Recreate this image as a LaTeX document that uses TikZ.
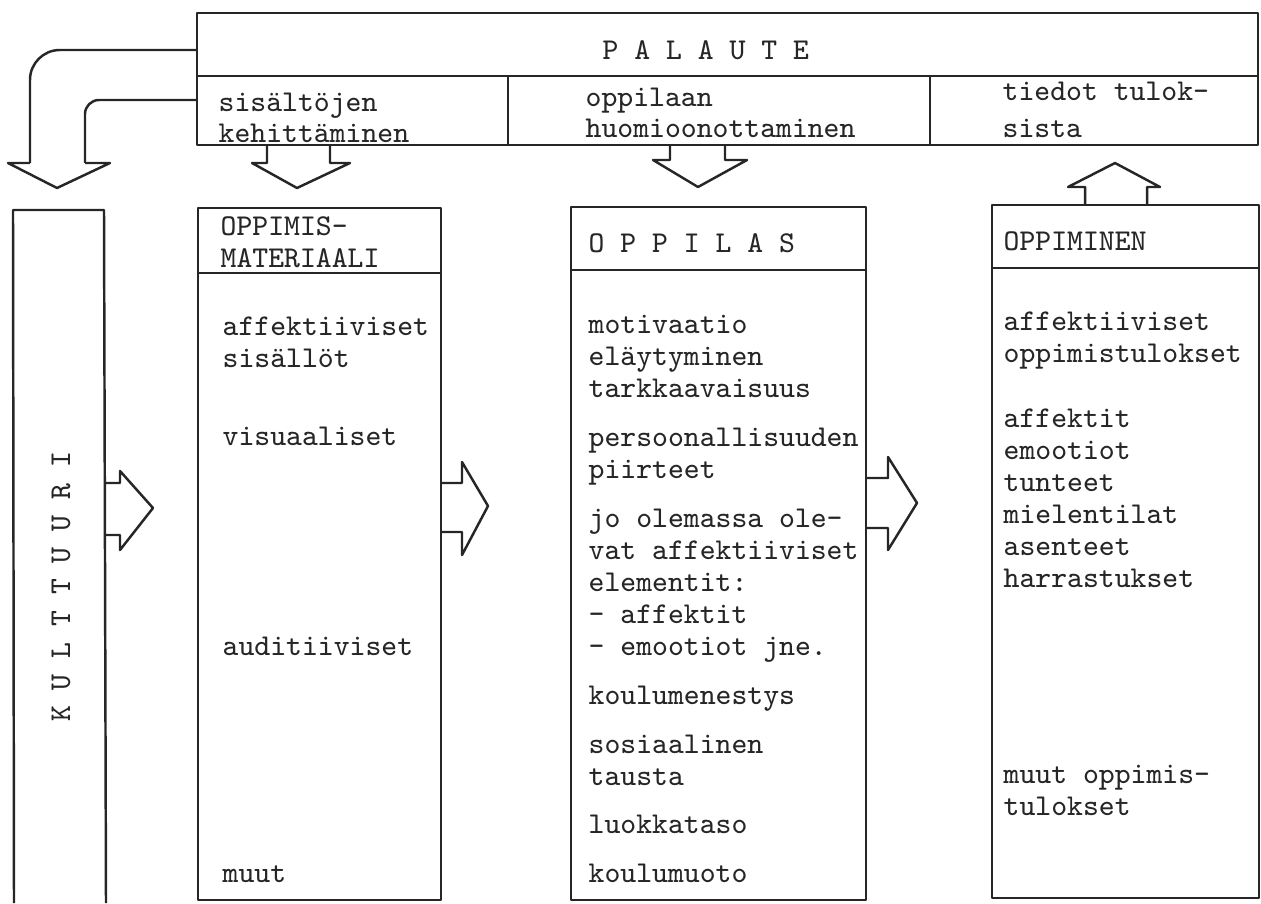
\documentclass[tikz,border=0pt]{standalone}
\usepackage{fontspec}
\usepackage{xcolor}
\colorlet{colInk}{black!85}
\usetikzlibrary{positioning}
\tikzset{
  frame/.style={draw=colInk, line width=0.7pt, line join=round},
  txt/.style={font=\ttfamily\fontsize{8.6}{9.1}\selectfont, text=colInk,
    anchor=base west, inner sep=0pt, align=left},
}

\begin{document}
\begin{tikzpicture}[x=0.1mm, y=-0.1mm]
  \useasboundingbox (0,0) rectangle (1261,903);
  % feedback box on top
  \draw[frame] (197,13) rectangle (1258,145);
  \draw[frame] (197,76) -- (1258,76);
  \draw[frame] (508,76) -- (508,145);
  \draw[frame] (930,76) -- (930,145);
  \node[txt] (palaute) at (602,60) {P A L A U T E};
  \node[txt] (kehitys) at (218,143) {sisältöjen\\kehittäminen};
  \node[txt] (huomio) at (585,138) {oppilaan\\huomioonottaminen};
  \node[txt] (tulostieto) at (1002,137) {tiedot tulok-\\[1.4pt]sista};

  % bent arrow down to the culture column
  \draw[frame, rounded corners=8.5pt] (197,50) -- (30,50) -- (30,163);
  \draw[frame, rounded corners=4pt] (197,100) -- (85,100) -- (85,163);
  \draw[frame] (30,163) -- (8,163) -- (57,188) -- (110,163) -- (85,163);

  % arrows between top box and columns
  \draw[frame] (267,145) -- (267,163) -- (252,163) -- (297,188) -- (350,163) -- (330,163) -- (330,145);
  \draw[frame] (670,145) -- (670,160) -- (653,160) -- (698,187) -- (747,160) -- (725,160) -- (725,145);
  \draw[frame] (1085,205) -- (1085,187) -- (1068,187) -- (1115,163) -- (1160,187) -- (1147,187) -- (1147,205);

  % columns
  \draw[frame] (14,903) -- (13,210) -- (104,210) -- (106,903);
  \node[txt, rotate=90, anchor=center] (kulttuuri) at (61,587) {K U L T T U U R I};

  \draw[frame] (198,208) rectangle (441,900);
  \draw[frame] (198,273) -- (441,273);
  \node[txt] (materiaali) at (220,267) {OPPIMIS-\\MATERIAALI};
  \node[txt] (mat-aff) at (222,367) {affektiiviset\\sisällöt};
  \node[txt] (mat-vis) at (222,445) {visuaaliset};
  \node[txt] (mat-aud) at (222,655) {auditiiviset};
  \node[txt] (mat-muut) at (222,882) {muut};

  \draw[frame] (571,207) rectangle (866,900);
  \draw[frame] (571,270) -- (866,270);
  \node[txt] (oppilas) at (588,252) {O P P I L A S};
  \node[txt] (opl-motiv) at (588,397) {motivaatio\\eläytyminen\\tarkkaavaisuus};
  \node[txt] (opl-pers) at (588,478) {persoonallisuuden\\piirteet};
  \node[txt] (opl-elem) at (588,655) {jo olemassa ole-\\vat affektiiviset\\elementit:\\- affektit\\- emootiot jne.};
  \node[txt] (opl-koulu) at (588,704) {koulumenestys};
  \node[txt] (opl-sos) at (588,785) {sosiaalinen\\tausta};
  \node[txt] (opl-luokka) at (588,833) {luokkataso};
  \node[txt] (opl-muoto) at (588,882) {koulumuoto};

  \draw[frame] (992,205) rectangle (1259,898);
  \draw[frame] (992,268) -- (1259,268);
  \node[txt] (oppiminen) at (1003,250) {OPPIMINEN};
  \node[txt] (opp-aff) at (1003,362) {affektiiviset\\oppimistulokset};
  \node[txt] (opp-tunne) at (1003,587) {affektit\\emootiot\\tunteet\\mielentilat\\asenteet\\harrastukset};
  \node[txt] (opp-muut) at (1003,815) {muut oppimis-\\tulokset};

  % arrows to the right
  \draw[frame] (106,483) -- (120,483) -- (120,471) -- (153,508) -- (120,550) -- (120,535) -- (106,535);
  \draw[frame] (441,483) -- (462,483) -- (462,462) -- (488,506) -- (462,555) -- (462,532) -- (441,532);
  \draw[frame] (866,478) -- (888,478) -- (888,457) -- (917,503) -- (888,550) -- (888,528) -- (866,528);
\end{tikzpicture}
\end{document}
